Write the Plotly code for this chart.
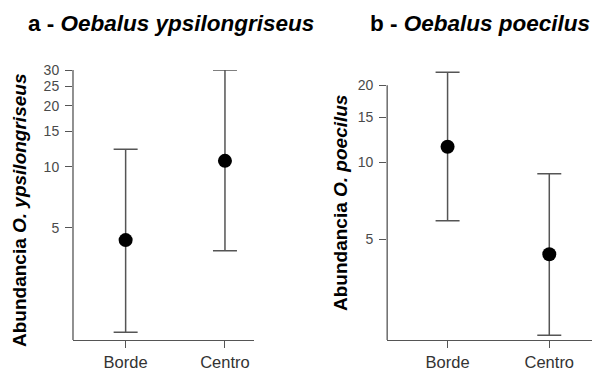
import numpy as np
import plotly.graph_objects as go

# ---- data ----
categories = ["Borde", "Centro"]
a_mean = [4.35, 10.7]
a_lower = [1.53, 3.86]
a_upper = [12.2, 30.0]
b_mean = [11.5, 4.37]
b_lower = [5.91, 2.11]
b_upper = [22.5, 9.03]
a_ticks = [5, 10, 15, 20, 25, 30]
b_ticks = [5, 10, 15, 20]

FONT = "Liberation Sans, Arial, Helvetica, sans-serif"
GREY = "#555555"

a_range = [np.log10(1.40), np.log10(30)]
b_range = [0.3058, 1.3605]

fig = go.Figure()


def add_panel(mean, lower, upper, xa, ya):
    fig.add_trace(go.Scatter(
        x=categories, y=mean, mode="markers",
        marker=dict(color="black", size=14, line=dict(width=0)),
        error_y=dict(type="data", symmetric=False,
                     array=[u - m for u, m in zip(upper, mean)],
                     arrayminus=[m - l for m, l in zip(mean, lower)],
                     color=GREY, thickness=1.5, width=12),
        cliponaxis=False, showlegend=False, xaxis=xa, yaxis=ya))


add_panel(a_mean, a_lower, a_upper, "x", "y")
add_panel(b_mean, b_lower, b_upper, "x2", "y2")

xcommon = dict(type="category", showgrid=False, zeroline=False, showline=True,
               linecolor=GREY, linewidth=1.3, ticks="outside", ticklen=7,
               tickcolor=GREY, tickwidth=1.3, ticklabelstandoff=0,
               tickfont=dict(family=FONT, size=16.5, color="#333333"))
ycommon = dict(type="log", showgrid=False, zeroline=False, showline=False,
               ticks="outside", ticklen=7, tickcolor=GREY, tickwidth=1.3,
               tickfont=dict(family=FONT, size=14, color="#4a4a4a"),
               ticklabelstandoff=3)

fig.update_layout(
    width=592, height=370,
    margin=dict(l=0, r=0, t=70, b=30, autoexpand=False),
    paper_bgcolor="white", plot_bgcolor="white",
    xaxis=dict(domain=[0.1233, 0.429], range=[-0.53, 1.292], anchor="y", **xcommon),
    xaxis2=dict(domain=[0.654, 1.0], range=[-0.594, 1.42], anchor="y2", **xcommon),
    yaxis=dict(range=a_range, tickvals=a_ticks, ticktext=[str(t) for t in a_ticks],
               anchor="x", **ycommon),
    yaxis2=dict(range=b_range, tickvals=b_ticks, ticktext=[str(t) for t in b_ticks],
                anchor="x2", **ycommon),
)

# y axis lines, from bottom to the highest tick (as in the reference)
for xr, yr, rng, ticks in (("x domain", "y domain", a_range, a_ticks),
                           ("x2 domain", "y2 domain", b_range, b_ticks)):
    top = (np.log10(max(ticks)) - rng[0]) / (rng[1] - rng[0])
    fig.add_shape(type="line", xref=xr, yref=yr, x0=0, x1=0, y0=0, y1=top,
                  line=dict(color=GREY, width=1.3))

ann = dict(xref="paper", yref="paper", showarrow=False, xanchor="center", yanchor="middle")
# titles
fig.add_annotation(text="<b>a - <i>Oebalus ypsilongriseus</i></b>",
                   x=171 / 592, y=(340 - 23) / 270,
                   font=dict(family=FONT, size=22.5, color="black"), **ann)
fig.add_annotation(text="<b>b - <i>Oebalus poecilus</i></b>",
                   x=480 / 592, y=(340 - 23) / 270,
                   font=dict(family=FONT, size=22.5, color="black"), **ann)
fig.add_annotation(text="<b>Abundancia <i>O. ypsilongriseus</i></b>",
                   x=20 / 592, y=(340 - 211) / 270, textangle=-90,
                   font=dict(family=FONT, size=19, color="black"), **ann)
fig.add_annotation(text="<b>Abundancia <i>O. poecilus</i></b>",
                   x=340 / 592, y=(340 - 203) / 270, textangle=-90,
                   font=dict(family=FONT, size=19, color="black"), **ann)

fig.write_html("out.html", config={"displayModeBar": False},
               post_script="document.body.style.margin='0';")
